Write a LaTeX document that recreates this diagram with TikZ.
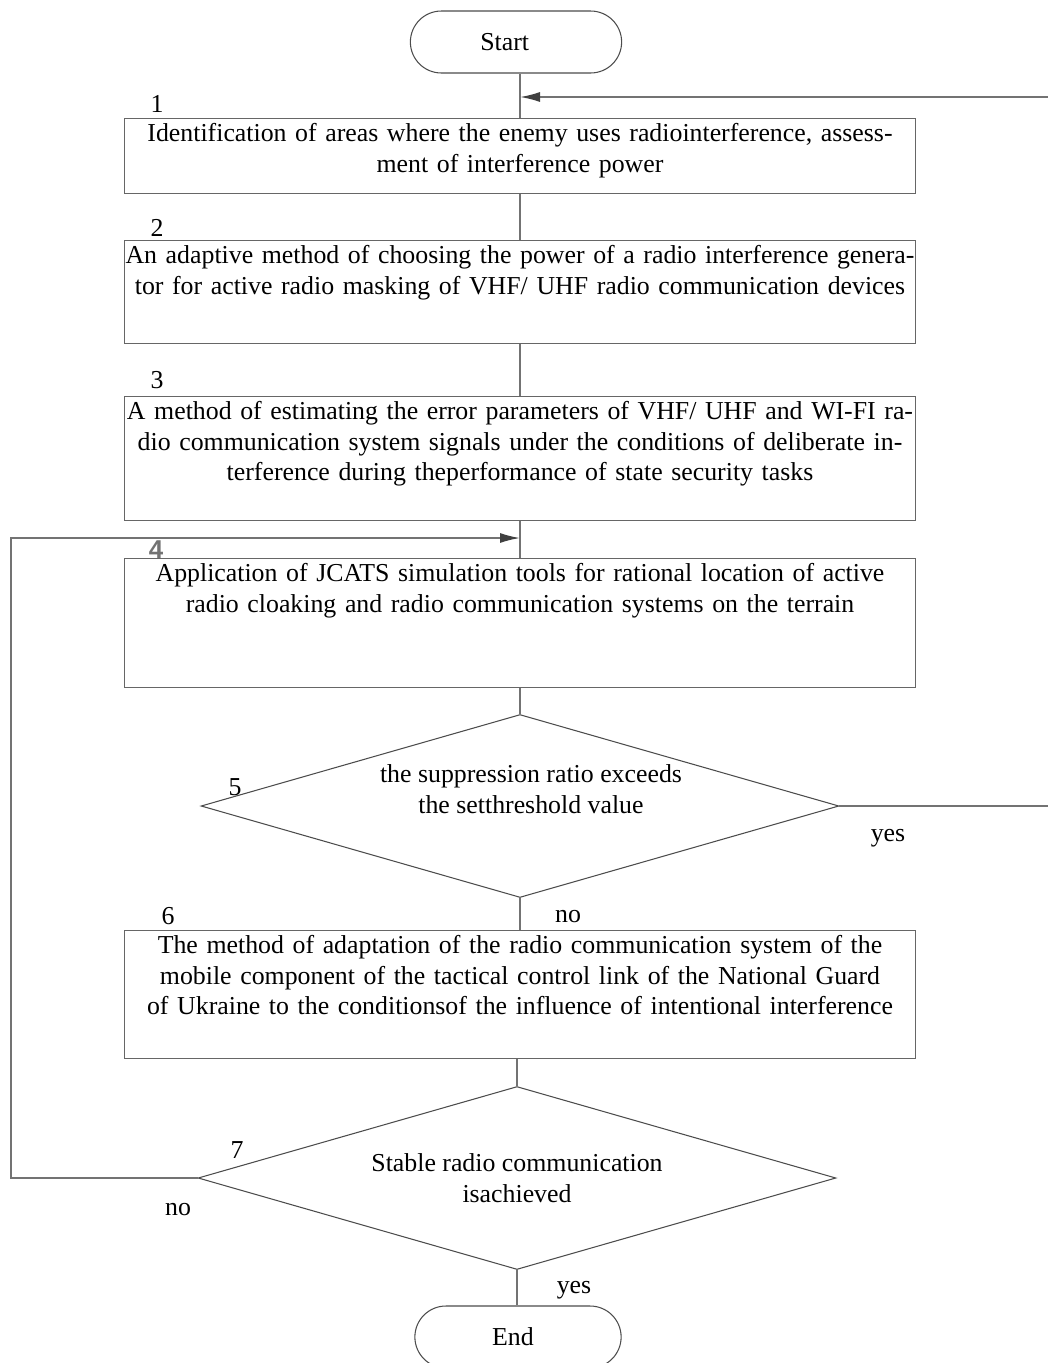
\documentclass[tikz,border=0pt]{standalone}
\usepackage{fontspec}
\setmainfont{Liberation Serif}
\newfontfamily\numfont{Liberation Sans}
\usepackage{tikz}
\usetikzlibrary{calc}
\usetikzlibrary{arrows.meta}
\usetikzlibrary{shapes.geometric}
\usetikzlibrary{shapes.misc}
\tikzset{stepbox/.style={draw=black!60, line width=0.6pt, rectangle, anchor=north, text width=15.84cm, inner xsep=0pt, inner ysep=0pt, align=center, text height=0.46cm}}
\tikzset{decision/.style={draw=black!70, line width=0.6pt, diamond, shape aspect=3.5, minimum width=12.76cm, minimum height=3.66cm, inner sep=0pt, align=center}}
\tikzset{terminal/.style={draw=black!70, line width=0.6pt, rounded rectangle, minimum height=1.24cm}}
\tikzset{conn/.style={draw=black!55, line width=0.9pt}}
\tikzset{tip/.style={-{Latex[length=0.4cm, width=0.2cm, color=black!75]}}}

\begin{document}
\begin{tikzpicture} [x=0.02cm, y=-0.02cm, font=\fontsize{14.7}{17.4}\selectfont]
\useasboundingbox (0,0) rectangle (1048,1363);
\node[terminal, minimum width=4.46cm] (start) at (516,42) {\hspace*{-0.45cm}Start};
\node[stepbox, text depth=1.04cm] (b1) at (520,118) {Identification of areas where the enemy uses radiointerference, assess-\\ment of interference power};
\node[stepbox, text depth=1.60cm] (b2) at (520,240) {An adaptive method of choosing the power of a radio interference genera-\\tor for active radio masking of VHF/ UHF radio communication devices};
\node[stepbox, text depth=2.02cm] (b3) at (520,396) {A method of estimating the error parameters of VHF/ UHF and WI-FI ra-\\dio communication system signals under the conditions of deliberate in-\\terference during theperformance of state security tasks};
\node[stepbox, text depth=2.12cm] (b4) at (520,558) {Application of JCATS simulation tools for rational location of active\\radio cloaking and radio communication systems on the terrain};
\node[decision] (d5) at (520,806) {};
\node[align=center] (d5text) at (531,789) {the suppression ratio exceeds\\the setthreshold value};
\node[stepbox, text depth=2.10cm] (b6) at (520,930) {The method of adaptation of the radio communication system of the\\mobile component of the tactical control link of the National Guard\\of Ukraine to the conditionsof the influence of intentional interference};
\node[decision] (d7) at (517,1178) {Stable radio communication\\isachieved};
\node[terminal, minimum width=4.36cm] (end) at (518,1337) {\hspace*{-0.2cm}End};

% step numbers
\node (n1) at (157,104) {1};
\node (n2) at (157,228) {2};
\node (n3) at (157,380) {3};
\node[text=black!55] (n4) at (156,550) {\numfont\bfseries 4};
\node (n5) at (235,787) {5};
\node (n6) at (168,916) {6};
\node (n7) at (237,1150) {7};

% answers
\node (yes5) at (888,838) {yes};
\node (no5) at (568,917) {no};
\node (no7) at (178,1210) {no};
\node (yes7) at (574,1290) {yes};

% main line
\draw[conn] (b1.north |- start.south) -- (b1.north);
\draw[conn] (b1) -- (b2);
\draw[conn] (b2) -- (b3);
\draw[conn] (b3) -- (b4);
\draw[conn] (b4) -- (d5);
\draw[conn] (d5) -- (b6);
\draw[conn] (b6.south -| d7.north) -- (d7.north);
\draw[conn] (d7.south) -- (d7.south |- end.north);

% loops back
\coordinate (rloop) at (1060,97);
\coordinate (lloop) at (11,538);
\draw[conn, tip] (d5.east) -- (d5.east -| rloop) -- (rloop) -- (rloop -| b1.north);
\draw[conn, tip] (d7.west) -- (d7.west -| lloop) -- (lloop) -- (lloop -| b4.north);
\end{tikzpicture}
\end{document}
